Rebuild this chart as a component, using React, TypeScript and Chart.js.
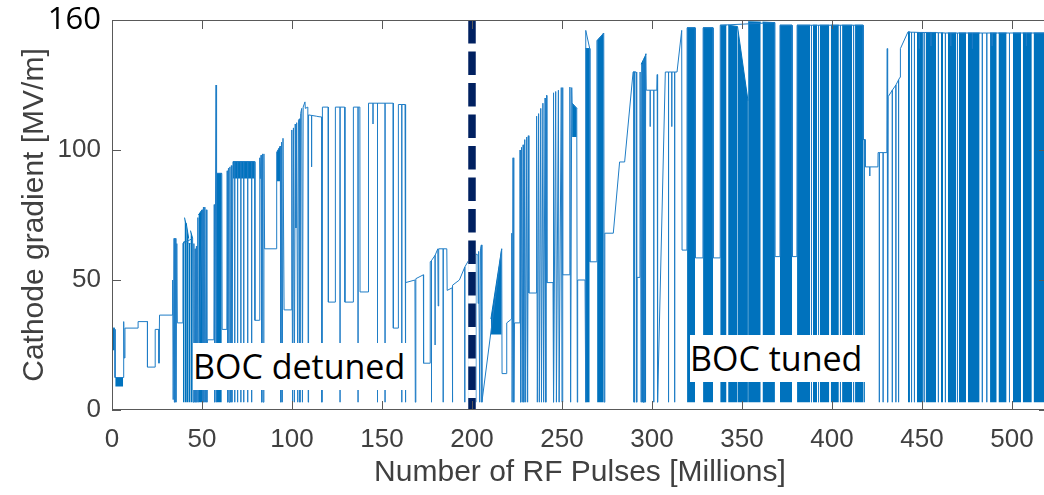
import React, { useEffect, useRef } from 'react';
import { Chart, registerables } from 'chart.js';

Chart.register(...registerables);

// ---------- data ----------
const X_TICKS = [0, 50, 100, 150, 200, 250, 300, 350, 400, 450, 500];
const Y_TICKS = [0, 50, 100, 150];
const Y_TOP_LABEL = '160';
const DIVIDER_X = 200;

// [x, y] = point ; [x, top, low] = drop from top down to low and back
const detunedTrace: number[][] = [
  [0, 1], [0, 31.5], [1.7, 31], [1.7, 12.5], [6.3, 12.5], [6.5, 34], [6.8, 20], [7.2, 31.5],
  [14.5, 31.5], [14.5, 34], [19.7, 34], [19.7, 16.5], [24, 16.5], [24, 31], [26, 31], [26.1, 18],
  [26.4, 36.5], [33.6, 36.5],
  [33.7, 50], [34.0, 4], [34.5, 66], [34.7, 3], [35.2, 66], [35.5, 3], [36.0, 64], [36.3, 33.5],
  [39.3, 33.5], [39.4, 64],
  [44.8, 66], [45.1, 3], [45.5, 64], [45.8, 3], [46.2, 62], [46.5, 3], [46.9, 63], [47.2, 3],
  [47.7, 74], [48.0, 3],
  [50.1, 77], [50.4, 3], [50.8, 78], [51.1, 3], [51.6, 78], [51.9, 3], [52.4, 77], [52.7, 3],
  [53.0, 27], [56.6, 27], [56.8, 79], [57.1, 3], [57.5, 80], [57.8, 125], [57.95, 80], [58.1, 3],
  [58.2, 91],
  [61.0, 91], [61.2, 31], [63.8, 31], [64.0, 92], [64.3, 3], [64.7, 93], [65.0, 3], [65.5, 93.5],
  [65.8, 3], [66.3, 94], [66.6, 3], [67.2, 95.5],
  [68.2, 95.5, 3], [69.8, 95.5, 3], [71.6, 95.5, 3], [73.2, 95.5, 3], [75.4, 95.5, 3], [77.6, 95.5, 3],
  [79.3, 95.5], [79.4, 34.5], [82, 34.5], [82.1, 97], [82.4, 89], [82.8, 98], [83.2, 3],
  [83.6, 98.5], [84.0, 3], [84.4, 98.5], [84.8, 62], [91.3, 62], [91.5, 99],
  [93.5, 101.5], [93.8, 3], [94.2, 103], [94.6, 3], [95.0, 104.5], [95.6, 38.5], [99.8, 38.5],
  [99.9, 107.7], [100.3, 3], [100.8, 108.5], [101.3, 3], [101.8, 110], [102.2, 70], [102.6, 110.5],
  [103.2, 3], [103.6, 111.5], [104.2, 112], [104.4, 3], [104.8, 114], [105.4, 116], [105.8, 3],
  [106.2, 116.5], [107.2, 118.5], [107.4, 116], [108.8, 116.5], [109.0, 3], [109.2, 113.5],
  [110.9, 113.3, 93.5], [113.5, 113], [115.0, 112.8], [116.5, 112.7], [116.6, 3], [116.9, 116.5],
  [120.1, 116.5], [120.2, 41.5], [124, 41.5], [124.1, 116.5], [126.7, 116.5, 3], [129.3, 116.5],
  [129.4, 41.5], [134, 41.5], [134.1, 116.5], [136.7, 116.5, 3], [137.7, 116.5], [137.8, 45.4],
  [142.4, 45.4], [142.5, 118], [145, 118, 110], [147.5, 118, 3], [151.7, 118, 3], [156.2, 118],
  [156.3, 31.5], [159, 31.5], [159.1, 117.5], [161, 117.5, 3], [162.8, 117.5], [163.0, 3],
  [163.2, 49], [168.3, 50], [168.5, 3], [168.8, 50.5], [173, 52], [173.1, 18], [176.7, 18],
  [176.8, 57], [177.5, 57.5, 3], [179.5, 59.5, 25], [181, 62], [181.2, 40], [181.5, 62],
  [184, 62, 3], [186, 62], [186.2, 46], [189, 47], [189.2, 48, 3], [193, 50], [196, 55, 3],
  [198.5, 58, 3], [200.2, 60],
];

const tunedTrace: number[][] = [
  [201.5, 60], [201.8, 3], [202.2, 60], [203.3, 59.6], [203.4, 41], [203.7, 61], [204.3, 3],
  [204.7, 62], [205.2, 63.5], [205.5, 3], [210.5, 30],
  [216.5, 62], [216.7, 14], [219.2, 14], [219.3, 33.5], [222, 35], [222.1, 68], [222.3, 3],
  [222.8, 97], [223.2, 3], [223.6, 33.5], [226.6, 33.5], [226.7, 100], [227.0, 3], [227.5, 101],
  [227.9, 3], [228.4, 102], [228.8, 3], [229.3, 104], [229.8, 3], [230.4, 105], [230.9, 3],
  [231.3, 105.5], [231.6, 45], [235.8, 45], [235.9, 113], [236.3, 3], [237.0, 114], [237.4, 3],
  [238.2, 116], [238.6, 3], [239.4, 118], [239.8, 3], [240.6, 120], [241.0, 3], [241.4, 121],
  [241.6, 49], [245.0, 49], [245.1, 122], [245.5, 3], [246.5, 122.5], [246.9, 3], [248.0, 123],
  [248.4, 3], [249.6, 124], [250.0, 3], [250.3, 124], [250.5, 52], [254.3, 52], [254.4, 124.2],
  [254.8, 3], [255.4, 124], [255.6, 118],
  [258.2, 116], [258.5, 3], [258.7, 50], [262.8, 50], [262.9, 139],
  [263.3, 146, 3], [265.4, 139], [265.5, 57], [269.3, 57], [269.4, 142],
  [273.2, 145], [273.5, 3], [273.8, 68], [278.5, 68], [282, 95.4], [284.8, 95.4], [289.5, 130],
  [290.2, 130, 3], [291.2, 130], [291.5, 3], [291.7, 51], [293.3, 51], [293.4, 130], [294.0, 3],
  [294.5, 133], [295.0, 3], [295.5, 135], [296.0, 3], [296.5, 137], [296.8, 123], [299, 123, 109],
  [301, 123, 3], [302.7, 123], [302.9, 129], [303.1, 3], [307.4, 130], [309.2, 130, 3],
  [311, 130, 109], [312.6, 130, 3], [313.9, 130], [316.5, 146], [316.7, 61.5], [319.4, 61.5],
  [319.5, 147],
  [324, 147], [324.1, 58.5], [328.3, 58.5], [328.4, 147],
  [333.9, 147], [334.0, 58.5], [337.8, 58.5], [337.9, 148],
  [368.3, 149], [368.4, 59], [371, 59], [371.1, 148],
  [377.8, 148], [377.9, 59], [380.5, 59], [380.6, 148],
  [388.6, 148, 3], [392.5, 148, 3], [404.7, 148, 3], [412.0, 148, 3], [417.3, 148], [417.4, 104],
  [418.4, 104], [418.5, 93.5], [421, 93.5, 90], [425.5, 93.5], [425.6, 99], [426.3, 99, 3],
  [428.4, 99, 3], [430.5, 99], [430.7, 139], [430.9, 3], [431.2, 120.5], [433.5, 123, 3],
  [435.5, 125, 3], [437.0, 127, 3], [437.8, 128], [438, 139], [442.2, 145.4],
  [444.2, 145.3, 3], [445.8, 145.3, 3], [448.5, 145.2, 139], [451.2, 145.2, 3],
  [455, 145.2, 140], [459.1, 145.1, 3], [463.0, 145, 3],
  [466, 145, 140], [469.7, 145, 3], [478, 145, 139], [483.5, 145, 3], [486.0, 145, 3],
  [489, 145, 140], [498.6, 145, 3], [508, 145, 140], [520, 145],
];

// dense bursts: [x0, x1, top0, top1, low]
const detunedBursts: number[][] = [
  [0.3, 1.6, 31.5, 31.5, 23],
  [1.8, 6.2, 12.5, 12.5, 9],
  [39.4, 40.3, 64, 65, 3],
  [40.3, 41.2, 74, 71, 3],
  [41.2, 42.6, 72, 66, 3],
  [42.6, 43.6, 64, 64, 3],
  [43.6, 44.8, 69, 66, 3],
  [48.0, 50.0, 75, 77, 3],
  [58.2, 61.0, 91, 91, 3],
  [67.2, 79.3, 95.5, 95.5, 89],
  [91.5, 93.5, 99, 101.5, 88],
];

const tunedBursts: number[][] = [
  [210.5, 216.5, 35, 62, 29],
  [255.6, 258.2, 118, 116, 105],
  [263.0, 265.4, 139, 139, 3],
  [269.5, 273.2, 142, 145, 3],
  [289.5, 290.8, 130, 130, 3],
  [294.0, 296.8, 133, 137, 3],
  [319.5, 323.9, 147, 147, 3],
  [328.4, 333.9, 147, 147, 3],
  [337.9, 341.4, 148, 148, 3],
  [342.3, 347.5, 148, 147.5, 3],
  [347.5, 353.3, 147.5, 119, 3],
  [353.4, 360.4, 149.3, 149.2, 3],
  [361.4, 368.3, 149.2, 149, 3],
  [371.1, 377.8, 148, 148, 3],
  [380.6, 387.8, 148, 148, 3],
  [389.4, 391.7, 148, 148, 3],
  [393.2, 398.5, 148, 148, 3],
  [399.3, 403.8, 148, 148, 3],
  [405.6, 411.2, 148, 148, 3],
  [412.8, 417.3, 148, 148, 3],
  [417.4, 418.3, 104, 104, 3],
  [442.2, 443.3, 145.4, 145.4, 3],
  [447.2, 450.5, 145.2, 145.2, 3],
  [452.0, 457.8, 145.2, 145.2, 3],
  [460.5, 461.7, 145, 145, 3],
  [464.4, 469.0, 145, 145, 3],
  [470.5, 474.5, 145, 145, 3],
  [475.5, 482.0, 145, 145, 3],
  [487.8, 491.5, 145, 145, 3],
  [492.5, 497.0, 145, 145, 3],
  [500.5, 505.0, 145, 145, 3],
  [506.0, 511.0, 145, 145, 3],
  [512.0, 520, 145, 145, 3],
];

// ---------- styling ----------
const BLUE = '#0072BD';
const LINE_BLUE = '#1f7dc6';
const AXIS_COLOR = '#595959';
const TEXT_COLOR = '#404040';
const NAVY = '#002060';

function buildTrace(events: number[][]) {
  const pts: { x: number; y: number }[] = [];
  for (const e of events) {
    if (e.length === 2) pts.push({ x: e[0], y: e[1] });
    else pts.push({ x: e[0], y: e[1] }, { x: e[0], y: e[2] }, { x: e[0], y: e[1] });
  }
  return pts;
}

const overlayPlugin = {
  id: 'overlay',
  afterDatasetsDraw(chart: any) {
    const { ctx, chartArea: a, scales } = chart;
    const xs = scales.x;
    const ys = scales.y;
    ctx.save();
    // divider dashed line
    const dx = xs.getPixelForValue(DIVIDER_X);
    ctx.lineWidth = 7.5;
    ctx.strokeStyle = '#ffffff';
    ctx.beginPath();
    ctx.moveTo(dx, a.top);
    ctx.lineTo(dx, a.bottom - 1);
    ctx.stroke();
    ctx.setLineDash([23.5, 8]);
    ctx.strokeStyle = NAVY;
    ctx.beginPath();
    ctx.moveTo(dx, a.top);
    ctx.lineTo(dx, a.bottom - 1);
    ctx.stroke();
    ctx.setLineDash([]);
    // axes box
    ctx.strokeStyle = AXIS_COLOR;
    ctx.lineWidth = 1;
    ctx.strokeRect(a.left + 0.5, a.top + 0.5, a.right - a.left - 1, a.bottom - a.top - 1);
    // inward ticks
    const TL = 9;
    ctx.beginPath();
    for (const v of X_TICKS) {
      const px = Math.round(xs.getPixelForValue(v)) + 0.5;
      ctx.moveTo(px, a.bottom);
      ctx.lineTo(px, a.bottom - TL);
      ctx.moveTo(px, a.top);
      ctx.lineTo(px, a.top + TL);
    }
    for (const v of Y_TICKS) {
      const py = Math.round(ys.getPixelForValue(v)) + 0.5;
      ctx.moveTo(a.left, py);
      ctx.lineTo(a.left + TL, py);
      ctx.moveTo(a.right, py);
      ctx.lineTo(a.right - TL, py);
    }
    ctx.stroke();
    ctx.restore();
  },
};

export default function App() {
  const ref = useRef<HTMLCanvasElement | null>(null);

  useEffect(() => {
    if (!ref.current) return;
    const trace = buildTrace([...detunedTrace, ...tunedTrace]);
    const burstSets = [...detunedBursts, ...tunedBursts].map((b) => ({
      data: [
        { x: b[0], y: b[2] },
        { x: b[1], y: b[3] },
      ],
      fill: { value: b[4] },
      backgroundColor: BLUE,
      borderColor: BLUE,
      borderWidth: 1,
      pointRadius: 0,
      tension: 0,
    }));
    const chart = new Chart(ref.current, {
      type: 'line',
      data: {
        datasets: [
          {
            data: trace,
            borderColor: LINE_BLUE,
            borderWidth: 1,
            pointRadius: 0,
            tension: 0,
            fill: false,
          },
          ...burstSets,
        ] as any,
      },
      options: {
        animation: false,
        responsive: false,
        devicePixelRatio: 1,
        layout: { padding: { top: 20, right: 8, left: 0, bottom: 0 } },
        plugins: { legend: { display: false }, tooltip: { enabled: false }, title: { display: false } },
        scales: {
          x: {
            type: 'linear',
            min: 0,
            max: 520,
            grid: { display: false, drawTicks: false },
            border: { display: false },
            ticks: {
              stepSize: 50,
              includeBounds: false,
              autoSkip: false,
              maxRotation: 0,
              padding: 14,
              color: TEXT_COLOR,
              font: { family: '"Liberation Sans", Arial, sans-serif', size: 26 },
            },
            title: {
              display: true,
              text: 'Number of RF Pulses [Millions]',
              color: TEXT_COLOR,
              font: { family: '"Liberation Sans", Arial, sans-serif', size: 30 },
              padding: { top: 0, bottom: 4 },
            },
            afterFit: (s: any) => {
              s.height = 85;
            },
          },
          y: {
            type: 'linear',
            min: 0,
            max: 150,
            grid: { display: false, drawTicks: false },
            border: { display: false },
            ticks: {
              stepSize: 50,
              includeBounds: false,
              padding: 11,
              callback: (v: any) => (v === 150 ? Y_TOP_LABEL : String(v)),
              color: (c: any) => (c.tick && c.tick.value === 150 ? '#000000' : TEXT_COLOR),
              font: (c: any) =>
                c.tick && c.tick.value === 150
                  ? { family: '"Open Sans", sans-serif', size: 31 }
                  : { family: '"Liberation Sans", Arial, sans-serif', size: 26 },
            },
            title: {
              display: true,
              text: 'Cathode gradient [MV/m]',
              color: TEXT_COLOR,
              font: { family: '"Liberation Sans", Arial, sans-serif', size: 30 },
              padding: { top: 17, bottom: 0 },
            },
            afterFit: (s: any) => {
              s.width = 112;
              s.paddingTop = 0;
              s.paddingBottom = 0;
            },
          },
        },
      } as any,
      plugins: [overlayPlugin],
    });
    return () => chart.destroy();
  }, []);

  const labelStyle: React.CSSProperties = {
    position: 'absolute',
    background: '#ffffff',
    color: '#000000',
    fontFamily: '"Open Sans", sans-serif',
    fontSize: 34,
    lineHeight: '47px',
    height: 47,
    paddingRight: 6,
    whiteSpace: 'nowrap',
  };

  return (
    <div
      style={{
        position: 'absolute',
        left: 0,
        top: 0,
        width: 1044,
        height: 495,
        overflow: 'hidden',
        background: '#ffffff',
      }}
    >
      <canvas ref={ref} width={1056} height={495} style={{ display: 'block', width: 1056, height: 495 }} />
      <div style={{ ...labelStyle, left: 193, top: 343 }}>BOC detuned</div>
      <div style={{ ...labelStyle, left: 690, top: 335 }}>BOC tuned</div>
    </div>
  );
}
